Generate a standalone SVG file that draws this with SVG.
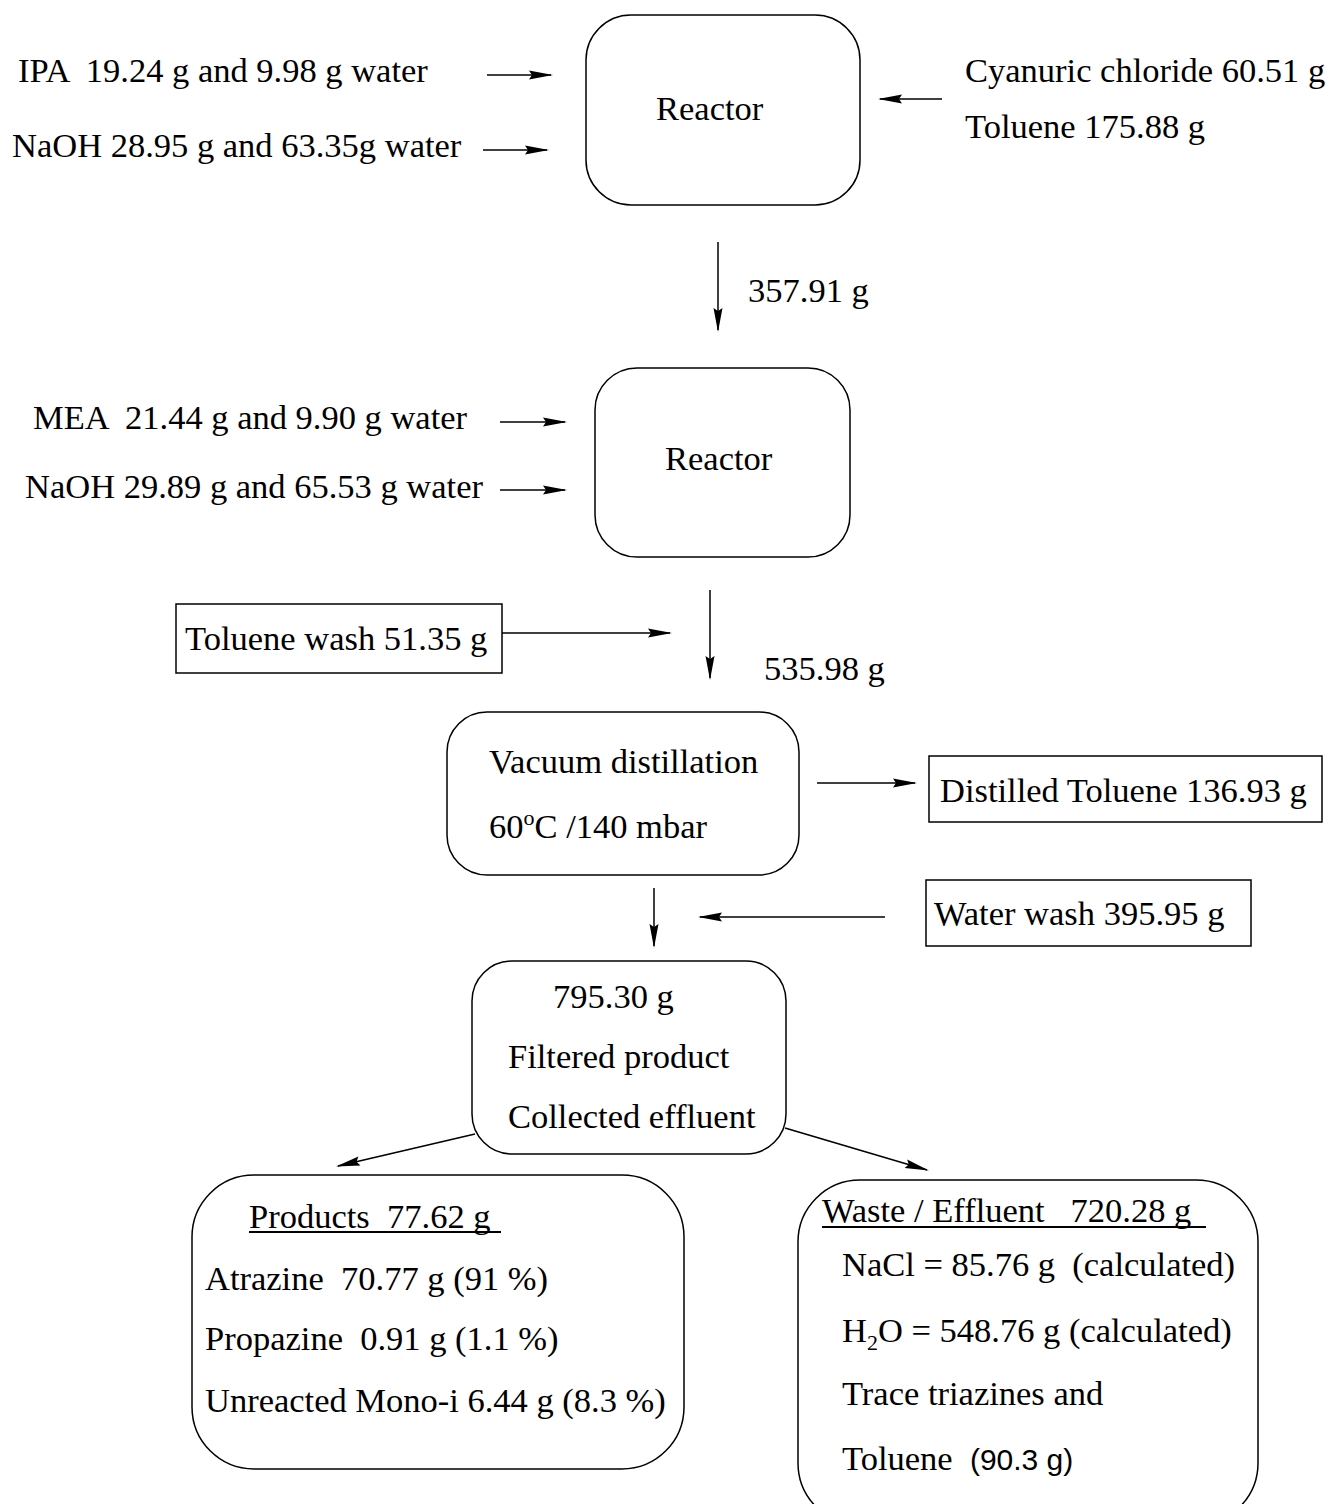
<svg xmlns="http://www.w3.org/2000/svg" width="1330" height="1504" viewBox="0 0 1330 1504">
<defs>
<style>
text{font-family:"Liberation Serif","Times New Roman",serif;font-size:34.5px;fill:#000;white-space:pre}
.sans{font-family:"Liberation Sans",Arial,sans-serif;font-size:30px}
.box{fill:#fff;stroke:#000;stroke-width:1.5}
.ln{fill:none;stroke:#000;stroke-width:1.5;marker-end:url(#ah)}
.ul{stroke:#000;stroke-width:2}
</style>
<marker id="ah" markerUnits="userSpaceOnUse" markerWidth="24" markerHeight="10" refX="22" refY="5" orient="auto" viewBox="0 0 24 10" overflow="visible">
<path d="M0,0.5 L24,5 L0,9.5 L3,5 z" fill="#000"/>
</marker>
</defs>
<rect width="1330" height="1504" fill="#fff"/>

<g id="connectors">
<line class="ln" x1="487" y1="75" x2="551" y2="75"/>
<line class="ln" x1="483" y1="150" x2="547" y2="150"/>
<line class="ln" x1="942" y1="99" x2="880" y2="99"/>
<line class="ln" x1="718" y1="242" x2="718" y2="330"/>
<line class="ln" x1="500" y1="422" x2="565" y2="422"/>
<line class="ln" x1="500" y1="490" x2="565" y2="490"/>
<line class="ln" x1="493" y1="633" x2="670" y2="633"/>
<line class="ln" x1="710" y1="590" x2="710" y2="678"/>
<line class="ln" x1="817" y1="783" x2="915" y2="783"/>
<line class="ln" x1="654" y1="888" x2="654" y2="946"/>
<line class="ln" x1="885" y1="917" x2="700" y2="917"/>
<line class="ln" x1="475" y1="1134" x2="338" y2="1166"/>
<line class="ln" x1="785" y1="1128" x2="927" y2="1170"/>
</g>

<g id="inputs1">
<text x="18" y="82">IPA  19.24 g and 9.98 g water</text>
<text x="12" y="157">NaOH 28.95 g and 63.35g water</text>
</g>
<g id="inputs1r">
<text x="965" y="82">Cyanuric chloride 60.51 g</text>
<text x="965" y="138">Toluene 175.88 g</text>
</g>
<g id="reactor1">
<rect class="box" x="586" y="15" width="274" height="190" rx="45"/>
<text x="656" y="120">Reactor</text>
</g>
<g id="flow1"><text x="748" y="302">357.91 g</text></g>

<g id="inputs2">
<text x="33" y="429">MEA  21.44 g and 9.90 g water</text>
<text x="25" y="498">NaOH 29.89 g and 65.53 g water</text>
</g>
<g id="reactor2">
<rect class="box" x="595" y="368" width="255" height="189" rx="42"/>
<text x="665" y="470">Reactor</text>
</g>

<g id="toluenewash">
<rect class="box" x="176" y="604" width="326" height="69"/>
<text x="185" y="650">Toluene wash 51.35 g</text>
</g>
<g id="flow2"><text x="764" y="680">535.98 g</text></g>

<g id="vacuum">
<rect class="box" x="447" y="712" width="352" height="163" rx="40"/>
<text x="489" y="773">Vacuum distillation</text>
<text x="489" y="838">60<tspan font-size="22" dy="-13">o</tspan><tspan dy="13">C /140 mbar</tspan></text>
</g>

<g id="distilled">
<rect class="box" x="929" y="756" width="393" height="66"/>
<text x="940" y="802">Distilled Toluene 136.93 g</text>
</g>

<g id="waterwash">
<rect class="box" x="926" y="880" width="325" height="66"/>
<text x="934" y="925">Water wash 395.95 g</text>
</g>

<g id="filtered">
<rect class="box" x="472" y="961" width="314" height="193" rx="40"/>
<text x="553" y="1008">795.30 g</text>
<text x="508" y="1068">Filtered product</text>
<text x="508" y="1128">Collected effluent</text>
</g>

<g id="products">
<rect class="box" x="192" y="1175" width="492" height="294" rx="62"/>
<text x="249" y="1228">Products  77.62 g </text>
<line class="ul" x1="249" y1="1232" x2="501" y2="1232"/>
<text x="205" y="1290">Atrazine  70.77 g (91 %)</text>
<text x="205" y="1350">Propazine  0.91 g (1.1 %)</text>
<text x="205" y="1412">Unreacted Mono-i 6.44 g (8.3 %)</text>
</g>

<g id="waste">
<rect class="box" x="798" y="1180" width="460" height="345" rx="62"/>
<text x="822" y="1222">Waste / Effluent   720.28 g </text>
<line class="ul" x1="822" y1="1227" x2="1206" y2="1227"/>
<text x="842" y="1276">NaCl = 85.76 g  (calculated)</text>
<text x="842" y="1342">H<tspan font-size="22" dy="8">2</tspan><tspan dy="-8">O = 548.76 g (calculated)</tspan></text>
<text x="842" y="1405">Trace triazines and</text>
<text x="842" y="1470">Toluene  <tspan class="sans">(90.3 g)</tspan></text>
</g>
</svg>
